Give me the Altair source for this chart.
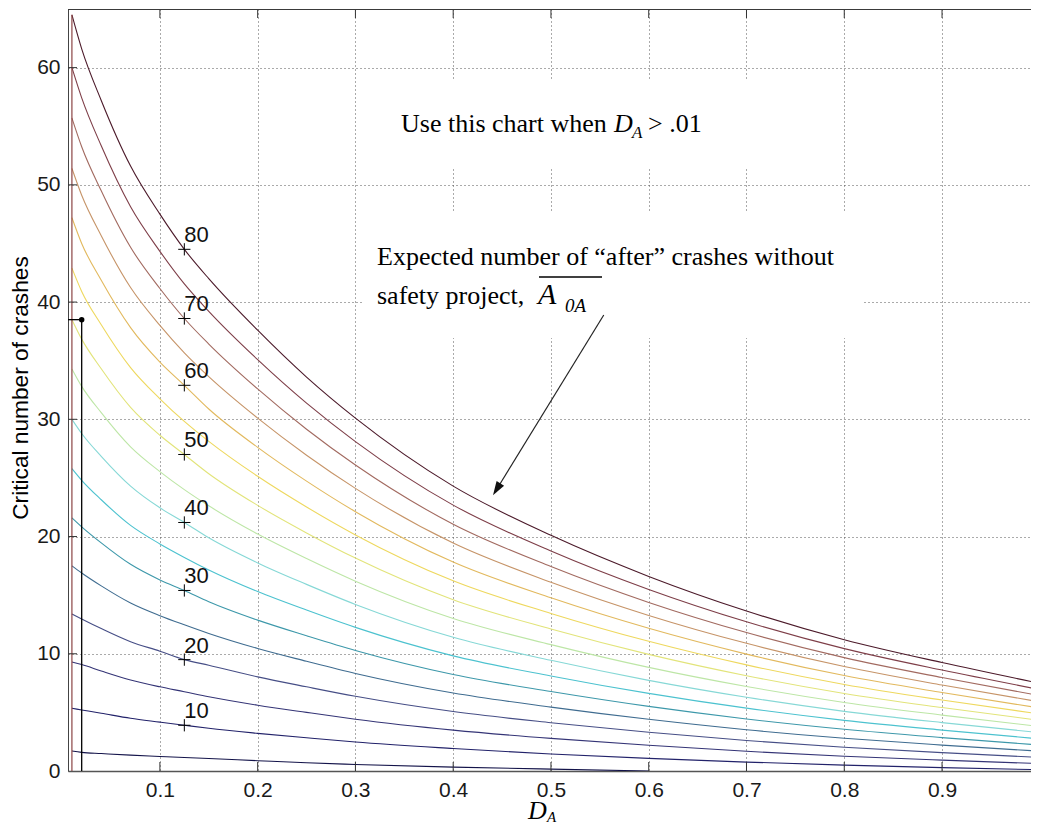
import altair as alt
import pandas as pd

# ---------------- data ----------------
D_A = [0.01, 0.02, 0.04, 0.07, 0.1, 0.125, 0.15, 0.2, 0.25, 0.3, 0.4, 0.5, 0.6, 0.7, 0.8, 0.9, 1.0]

A0A_5 = [1.7, 1.59, 1.49, 1.35, 1.24, 1.15, 1.07, 0.88, 0.70, 0.56, 0.33, 0.16, 0.0]
A0A_10 = [5.35, 5.21, 4.93, 4.50, 4.17, 3.9, 3.64, 3.21, 2.83, 2.47, 1.92, 1.45, 1.08, 0.76, 0.50, 0.29, 0.11]
A0A_15 = [9.3, 9.08, 8.53, 7.76, 7.18, 6.76, 6.33, 5.61, 5.0, 4.42, 3.49, 2.78, 2.19, 1.68, 1.26, 0.93, 0.63]
A0A_20 = [13.4, 12.97, 12.15, 11.03, 10.22, 9.5, 9.02, 8.03, 7.18, 6.37, 5.07, 4.12, 3.30, 2.60, 2.03, 1.57, 1.16]
A0A_25 = [17.5, 16.89, 15.79, 14.33, 13.25, 12.47, 11.73, 10.45, 9.36, 8.32, 6.65, 5.45, 4.41, 3.52, 2.79, 2.21, 1.69]
A0A_30 = [21.6, 20.83, 19.46, 17.63, 16.30, 15.4, 14.44, 12.87, 11.54, 10.28, 8.23, 6.78, 5.51, 4.44, 3.56, 2.85, 2.21]
A0A_35 = [25.8, 24.80, 23.14, 20.95, 19.37, 18.22, 17.15, 15.31, 13.73, 12.25, 9.82, 8.11, 6.62, 5.36, 4.32, 3.49, 2.74]
A0A_40 = [30.0, 28.79, 26.84, 24.30, 22.45, 21.2, 19.89, 17.75, 15.92, 14.21, 11.41, 9.44, 7.73, 6.29, 5.09, 4.13, 3.27]
A0A_45 = [34.3, 32.81, 30.57, 27.65, 25.54, 24.0, 22.62, 20.21, 18.12, 16.19, 13.01, 10.78, 8.84, 7.21, 5.85, 4.77, 3.79]
A0A_50 = [38.5, 36.84, 34.31, 31.02, 28.64, 27.0, 25.36, 22.66, 20.31, 18.16, 14.61, 12.11, 9.95, 8.13, 6.61, 5.41, 4.32]
A0A_55 = [42.9, 40.91, 38.07, 34.41, 31.75, 29.82, 28.12, 25.14, 22.52, 20.14, 16.22, 13.44, 11.06, 9.05, 7.38, 6.05, 4.86]
A0A_60 = [47.2, 45.0, 41.86, 37.82, 34.88, 32.9, 30.88, 27.61, 24.73, 22.12, 17.82, 14.77, 12.17, 9.97, 8.14, 6.69, 5.37]
A0A_65 = [51.4, 49.11, 45.66, 41.24, 38.01, 35.67, 33.64, 30.1, 26.94, 24.11, 19.44, 16.10, 13.27, 10.89, 8.91, 7.33, 5.90]
A0A_70 = [55.7, 53.25, 49.49, 44.67, 41.16, 38.6, 36.42, 32.59, 29.15, 26.10, 21.05, 17.44, 14.38, 11.81, 9.67, 7.97, 6.43]
A0A_75 = [60.0, 57.42, 53.33, 48.13, 44.33, 41.55, 39.21, 35.09, 31.38, 28.10, 22.68, 18.77, 15.49, 12.73, 10.44, 8.61, 6.95]
A0A_80 = [64.5, 61.6, 57.2, 51.6, 47.5, 44.5, 42.0, 37.6, 33.6, 30.1, 24.3, 20.1, 16.6, 13.65, 11.2, 9.25, 7.48]

LEVELS = [5, 10, 15, 20, 25, 30, 35, 40, 45, 50, 55, 60, 65, 70, 75, 80]
SERIES = [A0A_5, A0A_10, A0A_15, A0A_20, A0A_25, A0A_30, A0A_35, A0A_40,
          A0A_45, A0A_50, A0A_55, A0A_60, A0A_65, A0A_70, A0A_75, A0A_80]
LABELED_LEVELS = [10, 20, 30, 40, 50, 60, 70, 80]
LABEL_D = 0.125

X_TICKS = [0.1, 0.2, 0.3, 0.4, 0.5, 0.6, 0.7, 0.8, 0.9]
Y_TICKS = [0, 10, 20, 30, 40, 50, 60]

EXAMPLE_D = 0.02
EXAMPLE_C = 38.5
EDGE_D = 0.01
EDGE_TOP = 64.5
ARROW_FROM = (0.554, 38.9)
ARROW_TO = (0.445, 24.1)

LINE_COLORS = ["#14144a", "#22226a", "#343476", "#464e86", "#3f6c90", "#3d98aa",
               "#4cc2cf", "#86d8d6", "#bde6a6", "#e2e47a", "#eed85e", "#e2b95e",
               "#c69468", "#a26a60", "#7e3e48", "#4c1a2a"]

# ---------------- tables ----------------
rows = []
for lev, vals in zip(LEVELS, SERIES):
    for d, c in zip(D_A, vals):
        rows.append({"D": d, "C": c, "level": str(lev)})
df = pd.DataFrame(rows)

lab_idx = D_A.index(LABEL_D)
lab_df = pd.DataFrame({
    "D": [LABEL_D] * len(LABELED_LEVELS),
    "C": [SERIES[LEVELS.index(l)][lab_idx] for l in LABELED_LEVELS],
    "t": [str(l) for l in LABELED_LEVELS],
})

# ---------------- geometry ----------------
W, H = 963, 762
OX, OY = 68, 9          # page position of plot origin
X0, X1 = 0.006, 0.991

xscale = alt.Scale(domain=[X0, X1], nice=False, zero=False)
yscale = alt.Scale(domain=[0, 65], nice=False, zero=False)

xaxis = alt.Axis(values=X_TICKS, format=".1f", title=None, grid=True,
                 gridDash=[1, 3], gridColor="#555555", gridWidth=1,
                 tickSize=0, domain=True, domainColor="#555555", domainWidth=1.6,
                 labelFont="Liberation Sans",
                 labelFontSize=21, labelColor="#1a1a1a", labelPadding=8)
yaxis = alt.Axis(values=Y_TICKS, format="d", title=None, grid=True,
                 gridDash=[1, 3], gridColor="#555555", gridWidth=1,
                 tickSize=0, domain=True, domainColor="#444444", domainWidth=1,
                 labelFont="Liberation Sans",
                 labelFontSize=21, labelColor="#1a1a1a", labelPadding=8)

X = alt.X("D:Q", scale=xscale, axis=xaxis)
Y = alt.Y("C:Q", scale=yscale, axis=yaxis)


def txt(s, px, py, size, italic=False, font="Liberation Serif", align="left", angle=0):
    return alt.Chart(pd.DataFrame({"t": [s]})).mark_text(
        align=align, baseline="alphabetic", font=font, fontSize=size,
        fontStyle="italic" if italic else "normal", color="black", angle=angle
    ).encode(x=alt.value(px - OX), y=alt.value(py - OY), text="t:N")


def box(x0, y0, x1, y1):
    return alt.Chart(pd.DataFrame({"a": [0]})).mark_rect(color="white").encode(
        x=alt.value(x0 - OX), x2=alt.value(x1 - OX),
        y=alt.value(y0 - OY), y2=alt.value(y1 - OY))


boxes = box(366, 80, 778, 168) + box(362, 213, 862, 338)

lines = alt.Chart(df).mark_line(strokeWidth=1.1, interpolate="monotone", clip=True).encode(
    x=X, y=Y,
    color=alt.Color("level:N", scale=alt.Scale(domain=[str(l) for l in LEVELS], range=LINE_COLORS),
                    legend=None),
)

edge = alt.Chart(pd.DataFrame({"D": [EDGE_D], "C": [0], "C2": [EDGE_TOP]})).mark_rule(
    color="#8b4444", strokeWidth=1.2).encode(x=X, y=Y, y2="C2:Q")

ex_v = alt.Chart(pd.DataFrame({"D": [EXAMPLE_D], "C": [0], "C2": [EXAMPLE_C]})).mark_rule(
    color="black", strokeWidth=1.3).encode(x=X, y=Y, y2="C2:Q")
ex_h = alt.Chart(pd.DataFrame({"D": [X0], "D2": [EXAMPLE_D], "C": [EXAMPLE_C]})).mark_rule(
    color="black", strokeWidth=1.3).encode(x=X, x2="D2:Q", y=Y)
ex_pt = alt.Chart(pd.DataFrame({"D": [EXAMPLE_D], "C": [EXAMPLE_C]})).mark_circle(
    color="black", size=30, opacity=1).encode(x=X, y=Y)

plus = alt.Chart(lab_df).mark_point(shape="M-1,0L1,0M0,-1L0,1", size=150, filled=False,
                                    stroke="black", strokeWidth=1, opacity=1).encode(x=X, y=Y)
labels = alt.Chart(lab_df).mark_text(align="left", baseline="alphabetic", dx=0, dy=-7,
                                     font="Liberation Sans", fontSize=22, color="#111").encode(
    x=X, y=Y, text="t:N")

tick_b = alt.Chart(pd.DataFrame({"D": X_TICKS})).mark_rule(color="#333").encode(
    x=X, y=alt.value(H), y2=alt.value(H - 9))
tick_t = alt.Chart(pd.DataFrame({"D": X_TICKS})).mark_rule(color="#333").encode(
    x=X, y=alt.value(0), y2=alt.value(9))
tick_l = alt.Chart(pd.DataFrame({"C": Y_TICKS[1:]})).mark_rule(color="#333").encode(
    y=Y, x=alt.value(0), x2=alt.value(9))
top_frame = alt.Chart(pd.DataFrame({"a": [0]})).mark_rule(color="#3a3a3a", strokeWidth=1).encode(
    x=alt.value(0), x2=alt.value(W), y=alt.value(0.5))

arrow_line = alt.Chart(pd.DataFrame({"D": [ARROW_FROM[0]], "C": [ARROW_FROM[1]],
                                     "D2": [ARROW_TO[0]], "C2": [ARROW_TO[1]]})).mark_rule(
    color="#222", strokeWidth=1.2).encode(x=X, y=Y, x2="D2:Q", y2="C2:Q")
arrow_head = alt.Chart(pd.DataFrame({"D": [ARROW_TO[0]], "C": [ARROW_TO[1]]})).mark_point(
    shape="M0,-1L0.55,0.75L-0.55,0.75Z", size=256, filled=True, color="#111", opacity=1,
    angle=211.7).encode(x=X, y=Y)

# annotation text (page coordinates)
t1 = (txt("Use this chart when", 401, 132, 26) + txt("D", 614, 132, 26, italic=True)
      + txt("A", 632, 138, 17, italic=True) + txt("> .01", 648, 132, 26))
t2 = txt("Expected number of \u201cafter\u201d crashes without", 377, 265, 26)
t3 = (txt("safety project,", 377, 304, 26) + txt("A", 538, 304, 30, italic=True)
      + txt("0A", 565, 312, 19, italic=True))
overline = alt.Chart(pd.DataFrame({"a": [0]})).mark_rule(color="black", strokeWidth=1.5).encode(
    x=alt.value(539 - OX), x2=alt.value(602 - OX), y=alt.value(277 - OY))

ytitle = txt("Critical number of crashes", 28, 388, 22.7, font="Liberation Sans", align="center", angle=270)
xtitle = txt("D", 528, 819, 26, italic=True) + txt("A", 547, 822, 15, italic=True)

chart = alt.layer(
    boxes, lines, edge, ex_v, ex_h, ex_pt, plus, labels, tick_b, tick_t, tick_l, top_frame,
    arrow_line, arrow_head, t1, t2, t3, overline, ytitle, xtitle
).properties(
    width=W, height=H,
    autosize=alt.AutoSizeParams(type="none"),
    padding={"left": 60, "top": 1, "right": 0, "bottom": 55},
    background="white",
).configure_view(strokeWidth=0)

chart.save("out.html", embed_options={"renderer": "svg", "actions": False})
